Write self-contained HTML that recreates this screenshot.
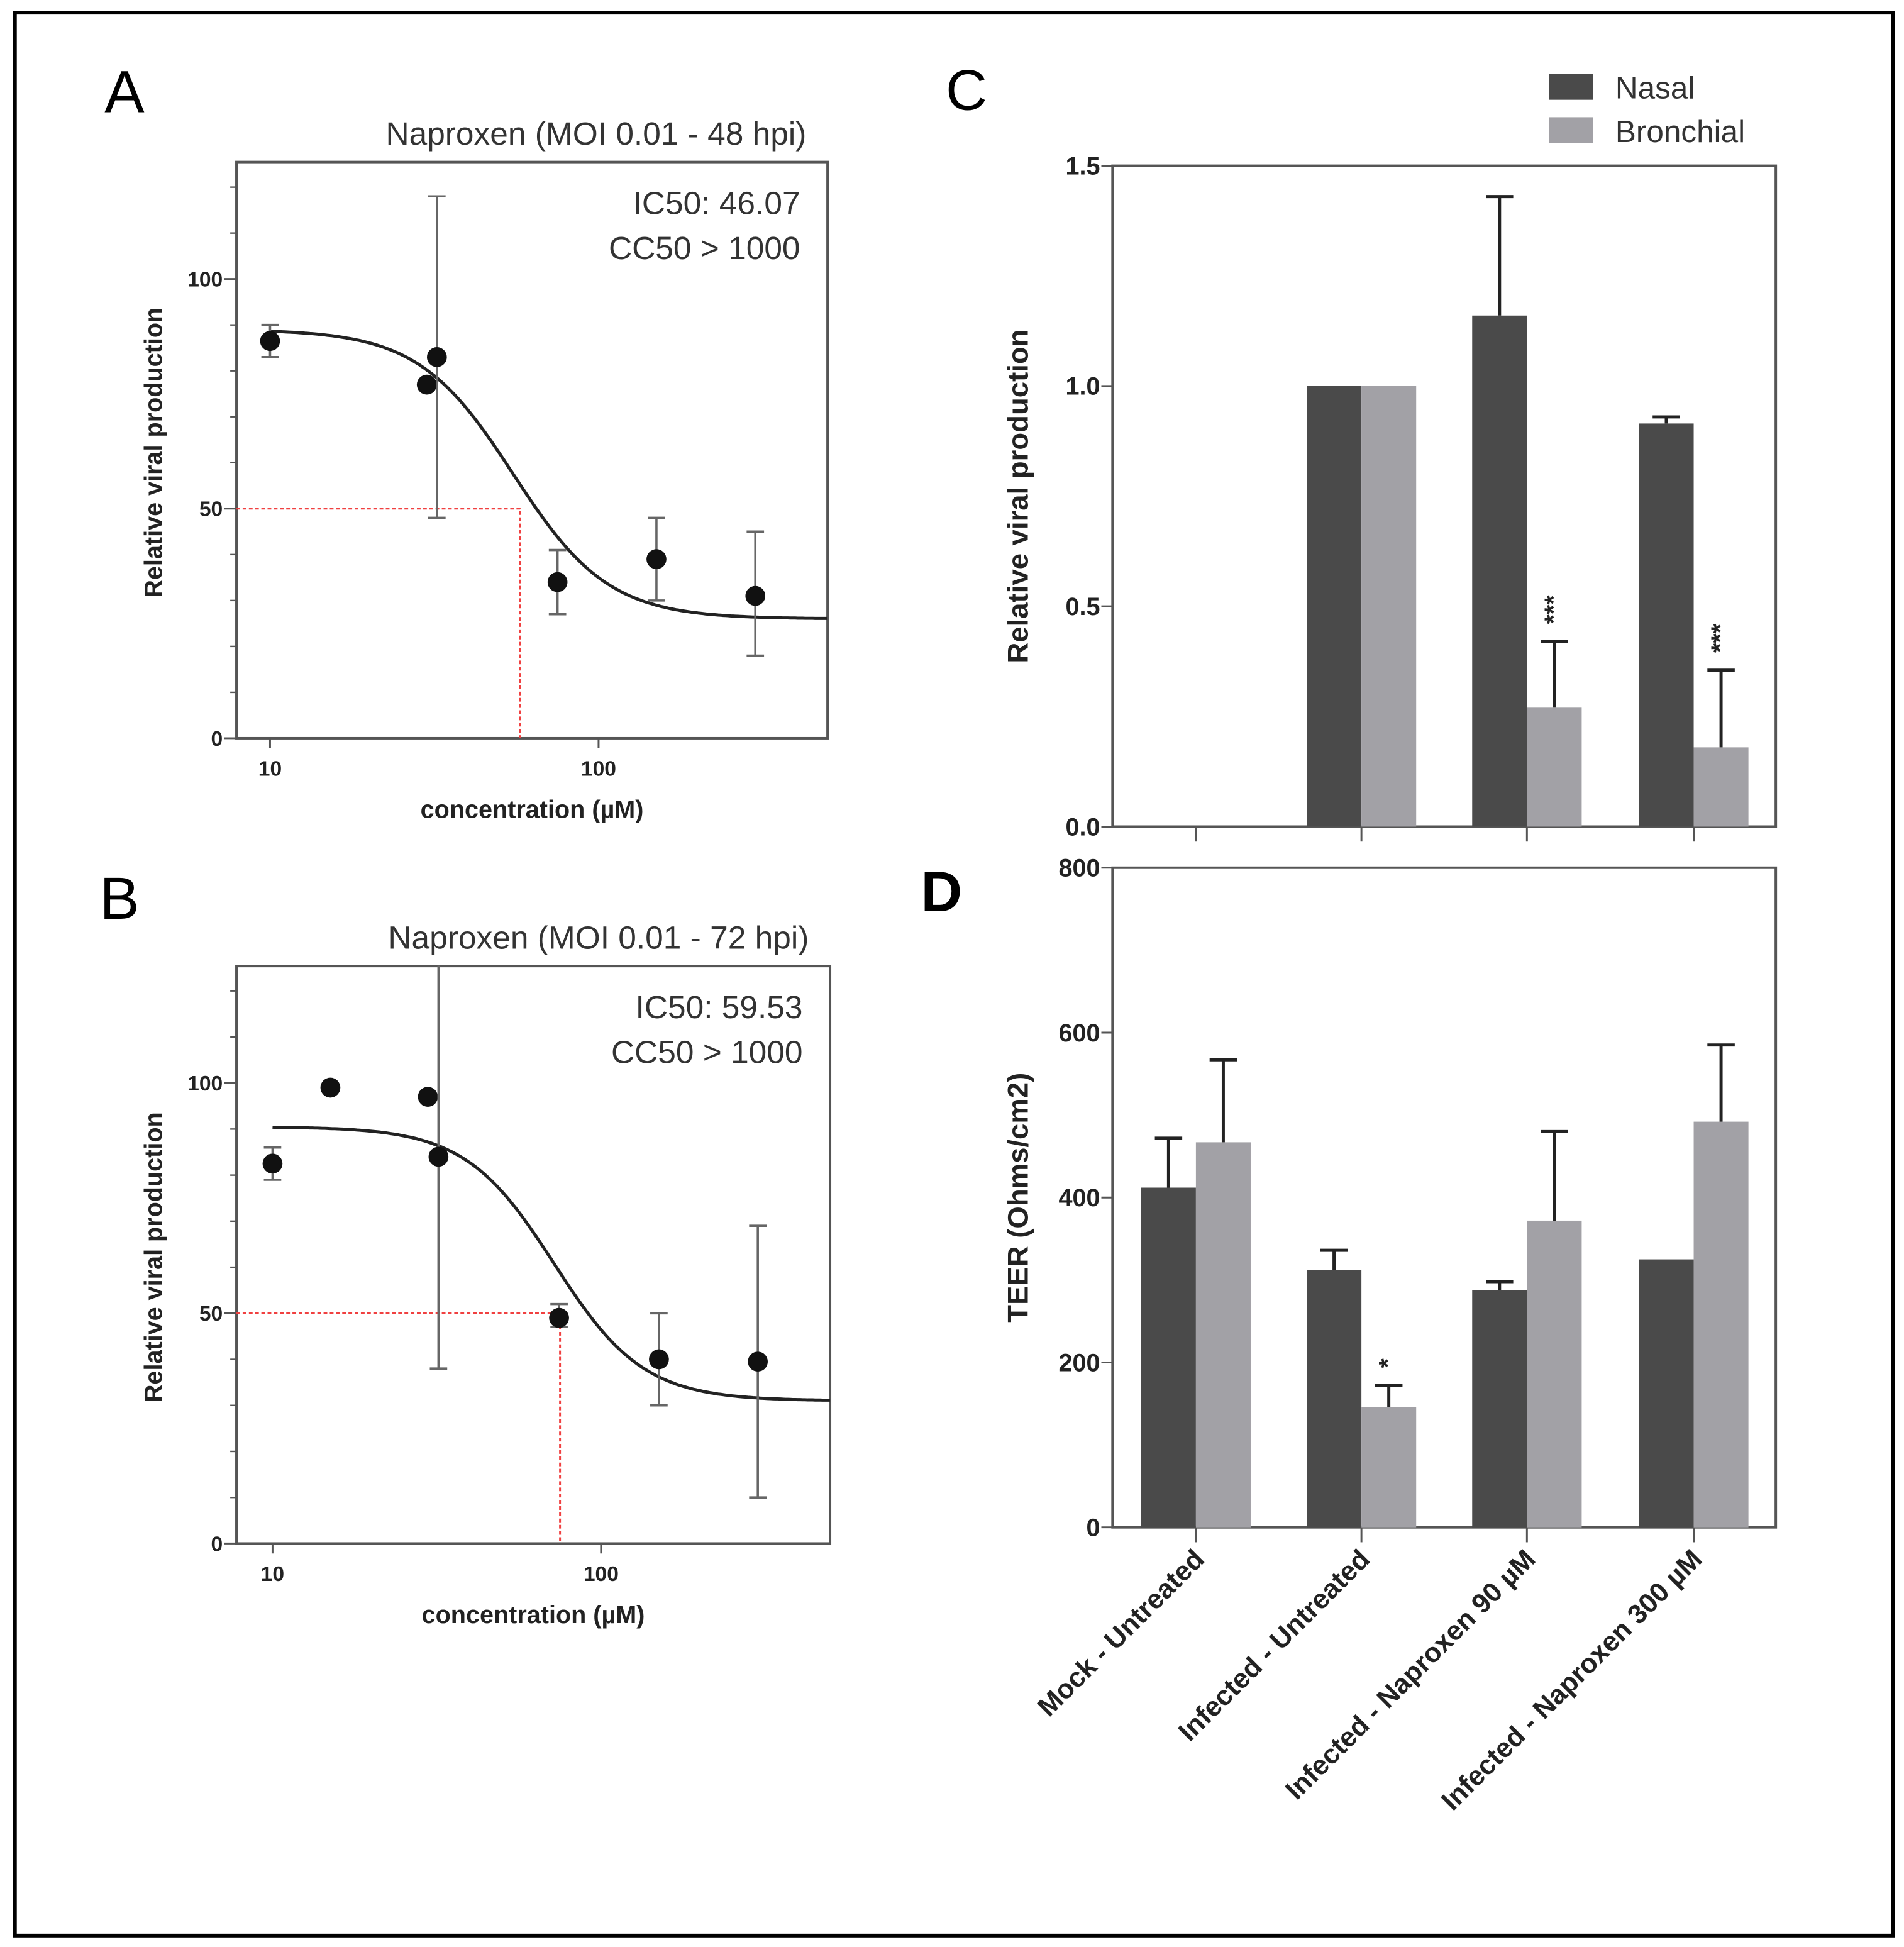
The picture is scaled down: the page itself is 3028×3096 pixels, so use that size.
<!DOCTYPE html>
<html><head><meta charset="utf-8"><style>
html,body{margin:0;padding:0;background:#fff}
svg{display:block}
text{font-family:"Liberation Sans",Arial,sans-serif}
</style></head><body>
<svg id="fig" width="3028" height="3096" viewBox="0 0 1530 1564" xmlns="http://www.w3.org/2000/svg">
<rect x="0" y="0" width="1530" height="1564" fill="#fff"/>
<rect x="12" y="10" width="1509" height="1545" fill="none" stroke="#000" stroke-width="3"/>
<g id="root"></g>
</svg>
<script>
// ---- Panel A data ----
const aConc = [10, 30, 32.2, 75, 150, 300];
const aVal = [86.5, 77, 83, 34, 39, 31];
const aLo = [83, 77, 48, 27, 30, 18];
const aHi = [90, 77, 118, 41, 48, 45];
const aFit = [89, 26, 55, 3.0]; // top, bottom, ec50, hill
const aIC = 57.7;
// ---- Panel B data ----
const bConc = [10, 15, 29.7, 32, 74.5, 150, 300];
const bVal = [82.5, 99, 97, 84, 49, 40, 39.5];
const bLo = [79, 99, 97, 38, 47, 30, 10];
const bHi = [86, 99, 97, 126, 52, 50, 69];
const bFit = [90.5, 31, 72, 3.2];
const bIC = 75;
// ---- Panel C / D ----
const categories = ["Mock - Untreated", "Infected - Untreated", "Infected - Naproxen 90 µM", "Infected - Naproxen 300 µM"];
const cNasal = [null, 1.0, 1.16, 0.915];
const cNasalErr = [null, 1.0, 1.43, 0.93];
const cBron = [null, 1.0, 0.27, 0.18];
const cBronErr = [null, 1.0, 0.42, 0.355];
const cStars = ["", "", "***", "***"];
const cTicks = [0.0, 0.5, 1.0, 1.5];
const dNasal = [412, 312, 288, 325];
const dNasalErr = [472, 336, 298, 325];
const dBron = [467, 146, 372, 492];
const dBronErr = [567, 172, 480, 585];
const dStars = ["", "*", "", ""];
const dTicks = [0, 200, 400, 600, 800];
const logTicks = [10, 100];
const pctTicks = [0, 50, 100];

const NS = "http://www.w3.org/2000/svg";
const root = document.getElementById("root");
function mk(tag, attrs, parent, txt) {
  const e = document.createElementNS(NS, tag);
  for (const k in attrs) e.setAttribute(k, attrs[k]);
  if (txt !== undefined) e.textContent = txt;
  (parent || root).appendChild(e);
  return e;
}
function grp(name) {
  const g = mk("g", {});
  
  
  return g;
}

function dosePanel(o) {
  const g = grp(o.name);
  const X = v => o.x10 + 264 * (Math.log10(v) - 1);
  const Y = v => o.y0 - (o.y0 - o.y100) * v / 100;
  const box = mk("rect", {x: o.left, y: o.top, width: o.right - o.left, height: o.y0 - o.top, fill: "none", stroke: "#555", "stroke-width": 2}, g);
  
  
  for (let v = 0; v <= 125; v += 10) {
    const t = mk("line", {x1: o.left - 5, x2: o.left, y1: Y(v), y2: Y(v), stroke: "#555", "stroke-width": 1.2}, g);
    
    
  }
  pctTicks.forEach(v => {
    const t = mk("line", {x1: o.left - 10, x2: o.left, y1: Y(v), y2: Y(v), stroke: "#555", "stroke-width": 1.5}, g);
    
    
    const l = mk("text", {x: o.left - 11, y: Y(v) + 6, "text-anchor": "end", "font-size": 17, "font-weight": "bold", fill: "#222"}, g, String(v));
    
    
  });
  logTicks.forEach(v => {
    const t = mk("line", {x1: X(v), x2: X(v), y1: o.y0, y2: o.y0 + 8, stroke: "#555", "stroke-width": 1.5}, g);
    
    
    const l = mk("text", {x: X(v), y: o.y0 + 30, "text-anchor": "middle", "font-size": 17, "font-weight": "bold", fill: "#222"}, g, String(v));
    
    
  });
  const rx = X(o.ic);
  const r1 = mk("path", {d: `M${o.left},${Y(50)}H${rx}V${o.y0}`, fill: "none", stroke: "#f04040", "stroke-width": 1.5, "stroke-dasharray": "3,2"}, g);
  
  
  const [top, bot, ec, h] = o.fit;
  let d = "";
  for (let px = X(10); px <= o.right; px += 2) {
    const c = Math.pow(10, 1 + (px - o.x10) / 264);
    const y = bot + (top - bot) / (1 + Math.pow(c / ec, h));
    d += (d ? "L" : "M") + px.toFixed(1) + "," + Y(y).toFixed(1);
  }
  const cv = mk("path", {d, fill: "none", stroke: "#222", "stroke-width": 2.5}, g);
  
  
  o.conc.forEach((c, i) => {
    const x = X(c);
    const hi = Math.min(o.hi[i], 125.5);
    if (o.hi[i] !== o.lo[i]) {
      const e = mk("path", {d: `M${x},${Y(hi)}V${Y(o.lo[i])}M${x-7},${Y(o.lo[i])}h14` + (o.hi[i] <= 125.5 ? `M${x-7},${Y(hi)}h14` : ""), stroke: "#666", "stroke-width": 1.8, fill: "none"}, g);
      
      
    }
    const p = mk("circle", {cx: x, cy: Y(o.val[i]), r: 8, fill: "#111"}, g);
    
    
  });
  const t = mk("text", {x: o.right - 17, y: o.top - 14, "text-anchor": "end", "font-size": 26, fill: "#333"}, g, o.title);
  
  
  o.notes.forEach((n, i) => {
    const l = mk("text", {x: o.right - 22, y: o.top + 42 + i * 36, "text-anchor": "end", "font-size": 26, fill: "#333"}, g, n);
    
    
  });
  const yl = mk("text", {transform: `translate(${o.left - 60},${(o.top + o.y0) / 2 + 2}) rotate(-90)`, "text-anchor": "middle", "font-size": 20, "font-weight": "bold", fill: "#222"}, g, "Relative viral production");
  
  
  const xl = mk("text", {x: (o.left + o.right) / 2, y: o.y0 + 64, "text-anchor": "middle", "font-size": 20, "font-weight": "bold", fill: "#222"}, g, "concentration (µM)");
  
  
  const pl = mk("text", {x: o.lx, y: o.ly, "font-size": 48, fill: "#000"}, g, o.letter);
  
  
}

dosePanel({name: "panel-a", letter: "A", lx: 84, ly: 90, left: 190, right: 665, top: 130, y0: 593, y100: 224, x10: 217,
  conc: aConc, val: aVal, lo: aLo, hi: aHi, fit: aFit, ic: aIC, title: "Naproxen (MOI 0.01 - 48 hpi)", notes: ["IC50:  46.07", "CC50 > 1000"]});
dosePanel({name: "panel-b", letter: "B", lx: 80, ly: 738, left: 190, right: 667, top: 776, y0: 1240, y100: 870, x10: 219,
  conc: bConc, val: bVal, lo: bLo, hi: bHi, fit: bFit, ic: bIC, title: "Naproxen (MOI 0.01 - 72 hpi)", notes: ["IC50: 59.53", "CC50 > 1000"]});

const centers = [961, 1094, 1227, 1361];
function barPanel(o) {
  const g = grp(o.name);
  const Y = v => o.y0 - (o.y0 - o.yTop) * (v - 0) / o.max;
  const box = mk("rect", {x: o.left, y: o.yTop, width: o.right - o.left, height: o.y0 - o.yTop, fill: "none", stroke: "#555", "stroke-width": 2}, g);
  
  
  o.ticks.forEach(v => {
    const t = mk("line", {x1: o.left - 9, x2: o.left, y1: Y(v), y2: Y(v), stroke: "#555", "stroke-width": 1.5}, g);
    
    
    const l = mk("text", {x: o.left - 10, y: Y(v) + 7, "text-anchor": "end", "font-size": 20, "font-weight": "bold", fill: "#222"}, g, o.fmt(v));
    
    
  });
  centers.forEach(c => {
    const t = mk("line", {x1: c, x2: c, y1: o.y0, y2: o.y0 + 12, stroke: "#555", "stroke-width": 1.5}, g);
    
    
  });
  const series = [[o.nasal, o.nasalErr, "#4a4a4a", -44, "nasal-bar"], [o.bron, o.bronErr, "#a2a1a6", 0, "bronchial-bar"]];
  series.forEach(([vals, errs, col, off, nm]) => {
    vals.forEach((v, i) => {
      if (v === null) return;
      const x = centers[i] + off;
      const b = mk("rect", {x, y: Y(v), width: 44, height: o.y0 - Y(v), fill: col}, g);
      
      
      if (errs[i] > v) {
        const e = mk("path", {d: `M${x + 22},${Y(v)}V${Y(errs[i])}M${x + 11},${Y(errs[i])}h22`, stroke: "#222", "stroke-width": 2.5, fill: "none"}, g);
        
        
      }
    });
  });
  o.stars.forEach((s, i) => {
    if (!s) return;
    const x = centers[i] + 22, y = Y(o.bronErr[i]) - 14;
    const st = mk("text", {transform: `translate(${x + 6},${y}) rotate(-90)`, "font-size": 20, "font-weight": "bold", fill: "#222"}, g, s);
    
    
  });
  const yl = mk("text", {transform: `translate(${o.left - 68},${(o.yTop + o.y0) / 2}) rotate(-90)`, "text-anchor": "middle", "font-size": 23, "font-weight": "bold", fill: "#222"}, g, o.ytitle);
  
  
  const pl = mk("text", {x: o.lx, y: o.ly, "font-size": 46, "font-weight": o.bold ? "bold" : "normal", fill: "#000"}, g, o.letter);
  
  
  return g;
}

barPanel({name: "panel-c", letter: "C", lx: 760, ly: 88, left: 894, right: 1427, yTop: 133, y0: 664, max: 1.5, ticks: cTicks, fmt: v => v.toFixed(1),
  nasal: cNasal, nasalErr: cNasalErr, bron: cBron, bronErr: cBronErr, stars: cStars, ytitle: "Relative viral production"});
const gd = barPanel({name: "panel-d", letter: "D", bold: true, lx: 740, ly: 732, left: 894, right: 1427, yTop: 697, y0: 1227, max: 800, ticks: dTicks, fmt: v => String(v),
  nasal: dNasal, nasalErr: dNasalErr, bron: dBron, bronErr: dBronErr, stars: dStars, ytitle: "TEER (Ohms/cm2)"});
categories.forEach((c, i) => {
  const l = mk("text", {transform: `translate(${centers[i] + 8},${1254}) rotate(-45)`, "text-anchor": "end", "font-size": 22, "font-weight": "bold", fill: "#222"}, gd, c);
  
  
});

const lg = grp("legend");
[["Nasal", "#4a4a4a", 70], ["Bronchial", "#a2a1a6", 105]].forEach(([n, col, y]) => {
  const s = mk("rect", {x: 1245, y: y - 11, width: 35, height: 21, fill: col}, lg);
  
  
  const t = mk("text", {x: 1298, y: y + 9, "font-size": 25, fill: "#333"}, lg, n);
  
  
});
</script>
</body></html>
